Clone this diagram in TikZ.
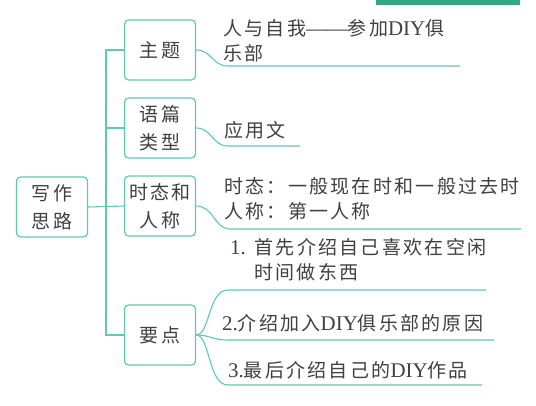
\documentclass[tikz,border=0pt]{standalone}
\usepackage{fontspec}
\setmainfont{Liberation Serif}
\newfontfamily\cjk{Noto Sans CJK SC}[LetterSpace=12]
\newfontfamily\latin{Liberation Serif}[Scale=1.1]
\newcommand{\en}[1]{{\latin #1}}
\definecolor{mapteal}{RGB}{95,202,172}
\definecolor{bannerteal}{RGB}{48,168,128}

\begin{document}
\begin{tikzpicture}[x=1pt,y=-1pt,
    every node/.style={font=\cjk\fontsize{19}{25}\selectfont,text=black!75},
    box/.style={draw=mapteal,line width=1.2pt,rounded corners=4pt,fill=white,
        minimum width=71pt,minimum height=60pt,inner sep=0pt,align=center,
        font=\cjk\fontsize{19}{28}\selectfont},
    leaf/.style={anchor=north west,inner sep=0pt,align=left},
    branch/.style={draw=mapteal,line width=1.1pt}
]
    \fill[white] (0,0) rectangle (536,405);
    \useasboundingbox (0,0) rectangle (536,405);
    \fill[bannerteal] (376,0) rectangle (520,5);

    \node[box] (root) at (52,207) {写作\\思路};
    \node[box] (topic) at (160,50) {主题};
    \node[box] (genre) at (160,128) {语篇\\类型};
    \node[box] (tense) at (160,206) {时态和\\人称};
    \node[box] (points) at (160,335) {要点};

    \coordinate (trunk) at (106,0);
    \draw[branch] (root.east) -- (tense.west);
    \draw[branch] (topic.west) -- (topic.west -| trunk) -- (points.west -| trunk) -- (points.west);
    \draw[branch] (genre.west) -- (genre.west -| trunk);

    \node[leaf] (t1) at (223,19) {人与自我\en{——}参加\en{DIY}俱\\乐部};
    \node[leaf] (t2) at (224,121) {应用文};
    \node[leaf] (t3) at (224,177) {时态：一般现在时和一般过去时\\人称：第一人称};
    \node[leaf] (t4) at (230,238) {\en{1.} 首先介绍自己喜欢在空闲\\\hspace*{24pt}时间做东西};
    \node[leaf] (t5) at (222,314) {\en{2.}介绍加入\en{DIY}俱乐部的原因};
    \node[leaf] (t6) at (228,361) {\en{3.}最后介绍自己的\en{DIY}作品};

    \coordinate (s1) at (228,66);  \coordinate (e1) at (460,66);
    \coordinate (s2) at (228,146); \coordinate (e2) at (300,146);
    \coordinate (s3) at (230,229); \coordinate (e3) at (521,229);
    \coordinate (s4) at (228,290); \coordinate (e4) at (486,290);
    \coordinate (s5) at (228,340); \coordinate (e5) at (494,340);
    \coordinate (s6) at (228,385); \coordinate (e6) at (482,385);

    \draw[branch] (topic.east) .. controls +(16,0) and +(-16,0) .. (s1) -- (e1);
    \draw[branch] (genre.east) .. controls +(16,0) and +(-16,0) .. (s2) -- (e2);
    \draw[branch] (tense.east) .. controls +(18,0) and +(-16,0) .. (s3) -- (e3);
    \draw[branch] (points.east) .. controls +(14,0) and +(-20,0) .. (s4) -- (e4);
    \draw[branch] (points.east) .. controls +(14,0) and +(-16,0) .. (s5) -- (e5);
    \draw[branch] (points.east) .. controls +(14,0) and +(-20,0) .. (s6) -- (e6);
\end{tikzpicture}
\end{document}
